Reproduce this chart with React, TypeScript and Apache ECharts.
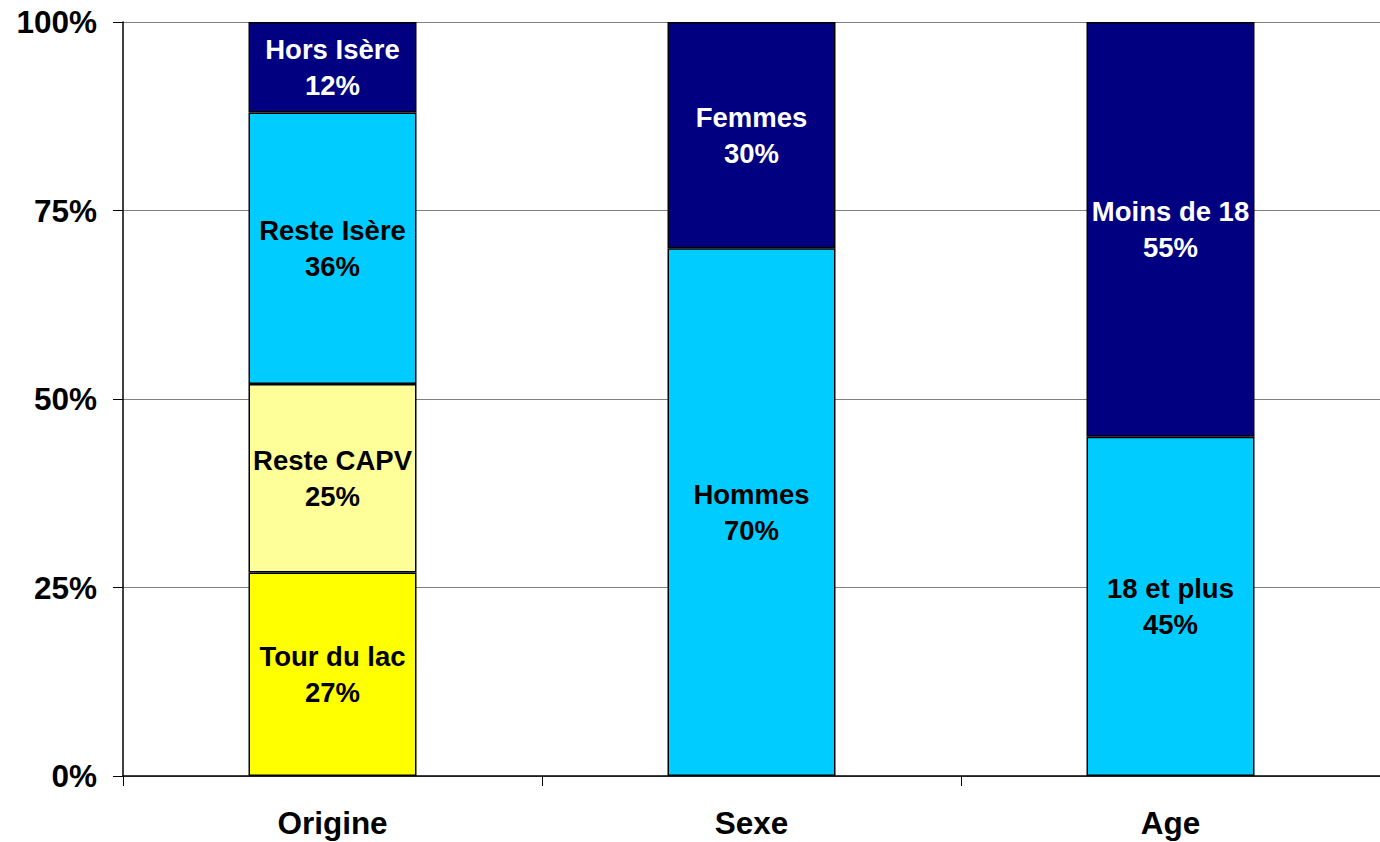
import React, { useEffect, useRef } from "react";
import * as echarts from "echarts";

const categories = ["Origine", "Sexe", "Age"];
const yTicks = [0, 25, 50, 75, 100];

const level1Names = ["Tour du lac", "Hommes", "18 et plus"];
const level1Values = [27, 70, 45];
const level2Names = ["Reste CAPV", "Femmes", "Moins de 18"];
const level2Values = [25, 30, 55];
const level3Names = ["Reste Isère", "", ""];
const level3Values: (number | null)[] = [36, null, null];
const level4Names = ["Hors Isère", "", ""];
const level4Values: (number | null)[] = [12, null, null];

const NAVY = "#000080";
const CYAN = "#00CCFF";
const LIGHT_YELLOW = "#FFFF99";
const YELLOW = "#FFFF00";

const level1Colors = [YELLOW, CYAN, CYAN];
const level2Colors = [LIGHT_YELLOW, NAVY, NAVY];
const level3Colors = [CYAN, CYAN, CYAN];
const level4Colors = [NAVY, NAVY, NAVY];

const FONT = "Arial, 'Liberation Sans', Helvetica, sans-serif";

function makeSeries(id: string, names: string[], values: (number | null)[], colors: string[]) {
  return {
    type: "bar",
    name: id,
    stack: "total",
    barWidth: 168,
    data: values.map((v, i) => ({
      value: v,
      itemStyle: { color: colors[i], borderColor: "#000", borderWidth: 1.5 },
      label: {
        color: colors[i] === NAVY ? "#ffffff" : "#000000",
      },
    })),
    label: {
      show: true,
      position: "inside",
      fontFamily: FONT,
      fontWeight: "bold",
      fontSize: 27.5,
      lineHeight: 36,
      formatter: (p: any) => (p.value == null ? "" : `${names[p.dataIndex]}\n${p.value}%`),
    },
  };
}

export default function App() {
  const ref = useRef<HTMLDivElement>(null);
  useEffect(() => {
    if (!ref.current) return;
    const chart = echarts.init(ref.current, undefined, { renderer: "svg" });
    chart.setOption({
      animation: false,
      backgroundColor: "#ffffff",
      grid: { left: 123, top: 22, width: 1260, height: 754 },
      xAxis: {
        type: "category",
        data: categories,
        axisLine: { lineStyle: { color: "#000", width: 1.5 } },
        axisTick: { show: true, length: 10, lineStyle: { color: "#000" } },
        axisLabel: {
          color: "#000",
          fontFamily: FONT,
          fontWeight: "bold",
          fontSize: 31.5,
          margin: 31,
        },
      },
      yAxis: {
        type: "value",
        min: yTicks[0],
        max: yTicks[yTicks.length - 1],
        interval: 25,
        axisLine: { show: true, lineStyle: { color: "#000", width: 1.5 } },
        axisTick: { show: true, length: 10, lineStyle: { color: "#000" } },
        splitLine: { show: true, lineStyle: { color: "#808080", width: 1 } },
        axisLabel: {
          color: "#000",
          fontFamily: FONT,
          fontWeight: "bold",
          fontSize: 31.5,
          margin: 26,
          formatter: "{value}%",
        },
      },
      series: [
        makeSeries("level1", level1Names, level1Values, level1Colors),
        makeSeries("level2", level2Names, level2Values, level2Colors),
        makeSeries("level3", level3Names, level3Values, level3Colors),
        makeSeries("level4", level4Names, level4Values, level4Colors),
      ],
    });
    return () => chart.dispose();
  }, []);
  return (
    <div
      ref={ref}
      style={{ position: "fixed", left: 0, top: 0, width: 1380, height: 842, background: "#fff" }}
    />
  );
}
